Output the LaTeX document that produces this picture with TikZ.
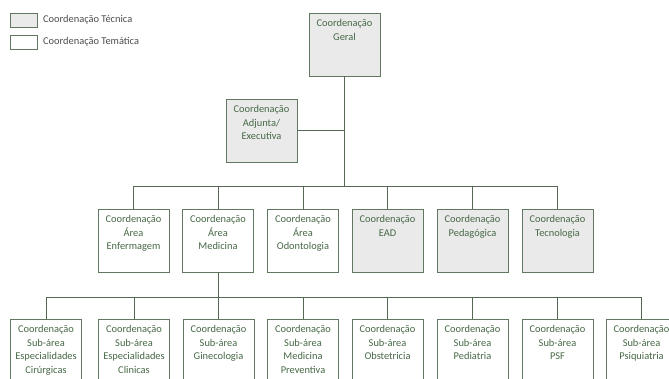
\documentclass[tikz,border=0pt]{standalone}
\usepackage{fontspec}
\setmainfont{Carlito}
\definecolor{borda}{RGB}{96,120,96}
\definecolor{linhacor}{RGB}{84,104,84}
\definecolor{textoverde}{RGB}{70,104,70}
\definecolor{fundotec}{RGB}{234,234,234}
\newcommand{\caixa}[1]{\parbox[c][63pt][t]{71pt}{\centering\rule{0pt}{13.5pt}#1}}
\tikzset{
  tecnica/.style={draw=borda, line width=0.9pt, fill=fundotec, inner sep=0pt,
    text=textoverde, font=\fontsize{10.4}{13.5}\selectfont},
  tematica/.style={tecnica, fill=white},
  linha/.style={draw=linhacor, line width=0.9pt},
  legenda/.style={draw=borda, line width=0.9pt, minimum width=27pt, minimum height=14pt, inner sep=0pt},
  legtexto/.style={anchor=west, inner sep=0pt, text=black!70, font=\fontsize{10.4}{12}\selectfont}
}
\begin{document}
\begin{tikzpicture}[x=1pt, y=-1pt]
    \useasboundingbox (0,0) rectangle (669,378);
    \clip (0,0) rectangle (669,378);
    \node[legenda, fill=fundotec] (leg1) at (23.5,20) {};
    \node[legenda, fill=white] (leg2) at (23.5,42) {};
    \node[legtexto] (legt1) at (43,20) {Coordenação Técnica};
    \node[legtexto] (legt2) at (43,42) {Coordenação Temática};

    \node[tecnica] (geral) at (344.5,44.5) {\caixa{Coordenação\\Geral}};
    \node[tecnica] (adj) at (261.5,130.5) {\caixa{Coordenação\\Adjunta/\\Executiva}};

    \node[tematica] (enf) at (133.5,240.5) {\caixa{Coordenação\\Área\\Enfermagem}};
    \node[tematica] (med) at (218,240.5) {\caixa{Coordenação\\Área\\Medicina}};
    \node[tematica] (odo) at (303,240.5) {\caixa{Coordenação\\Área\\Odontologia}};
    \node[tecnica] (ead) at (387.5,240.5) {\caixa{Coordenação\\EAD}};
    \node[tecnica] (ped) at (472.5,240.5) {\caixa{Coordenação\\Pedagógica}};
    \node[tecnica] (tec) at (557.5,240.5) {\caixa{Coordenação\\Tecnologia}};

    \node[tematica] (cir) at (46,350.5) {\caixa{Coordenação\\Sub-área\\Especialidades\\Cirúrgicas}};
    \node[tematica] (cli) at (134,350.5) {\caixa{Coordenação\\Sub-área\\Especialidades\\Clinicas}};
    \node[tematica] (gin) at (218.5,350.5) {\caixa{Coordenação\\Sub-área\\Ginecologia}};
    \node[tematica] (prev) at (303,350.5) {\caixa{Coordenação\\Sub-área\\Medicina\\Preventiva}};
    \node[tematica] (obs) at (387.5,350.5) {\caixa{Coordenação\\Sub-área\\Obstetricia}};
    \node[tematica] (pedi) at (472.5,350.5) {\caixa{Coordenação\\Sub-área\\Pediatria}};
    \node[tematica] (psf) at (557.5,350.5) {\caixa{Coordenação\\Sub-área\\PSF}};
    \node[tematica] (psi) at (641.5,350.5) {\caixa{Coordenação\\Sub-área\\Psiquiatria}};

    \coordinate (nivel2) at (0,186);
    \coordinate (nivel3) at (0,297);
    \draw[linha] (geral.south) -- (geral.south |- nivel2);
    \draw[linha] (adj.east) -- (adj.east -| geral.south);
    \draw[linha] (enf.north |- nivel2) -- (tec.north |- nivel2);
    \foreach \n in {enf,med,odo,ead,ped,tec}
        \draw[linha] (\n.north |- nivel2) -- (\n.north);
    \draw[linha] (med.south) -- (med.south |- nivel3);
    \draw[linha] (cir.north |- nivel3) -- (psi.north |- nivel3);
    \foreach \n in {cir,cli,gin,prev,obs,pedi,psf,psi}
        \draw[linha] (\n.north |- nivel3) -- (\n.north);
\end{tikzpicture}
\end{document}
